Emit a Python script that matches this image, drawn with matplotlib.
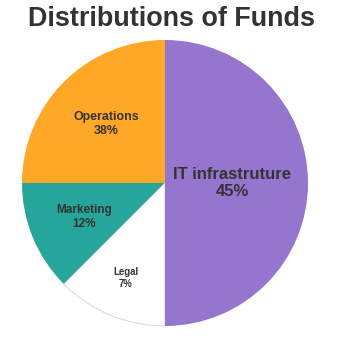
import numpy as np
import matplotlib
matplotlib.use("Agg")
import matplotlib.pyplot as plt

# slice order counter-clockwise starting from the top
categories = ["Operations", "Marketing", "Legal", "IT infrastruture"]
shares = [25, 12.5, 12.5, 50]          # drawn sizes of the slices
pct_labels = ["38%", "12%", "7%", "45%"]  # percentages as printed on the chart
colors = ["#FFA726", "#26A69A", "#FFFFFF", "#9575CD"]

label_size = [8.9, 8.5, 6.9, 12]
label_dist = [0.58, 0.615, 0.72, 0.47]

plt.rcParams['font.family'] = ['Liberation Sans', 'DejaVu Sans']

fig = plt.figure(figsize=(3.4, 3.43), dpi=100)
ax = fig.add_axes([22/340, 17/343, 286/340, 286/343])

wedges, _ = ax.pie(shares, colors=colors, startangle=90, counterclock=True,
                   radius=1, wedgeprops=dict(linewidth=0))
for w, c in zip(wedges, colors):
    if c == "#FFFFFF":
        w.set_edgecolor("#d0d0d0")
        w.set_linewidth(0.6)

for w, name, pct, fs, d in zip(wedges, categories, pct_labels, label_size, label_dist):
    mid = np.deg2rad((w.theta1 + w.theta2) / 2)
    ax.text(d*np.cos(mid), d*np.sin(mid), name + "\n" + pct,
            ha="center", va="center", fontsize=fs, fontweight="bold",
            color="#333333", linespacing=1.2)

ax.set_xlim(-1, 1)
ax.set_ylim(-1, 1)
ax.set_aspect("equal")
ax.axis("off")

fig.text(172/340, 1 - 25.5/343, "Distributions of Funds", ha="center", va="baseline",
         fontsize=19.4, fontweight="bold", color="#333333")

fig.savefig("out.png", dpi=100)
